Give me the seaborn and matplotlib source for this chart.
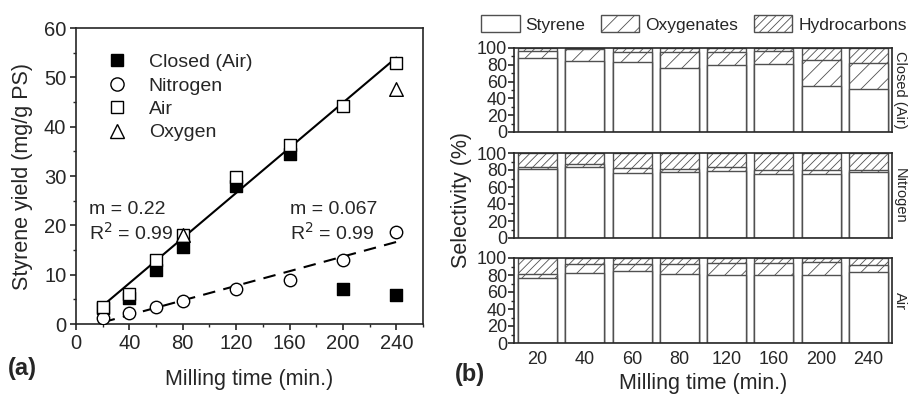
import numpy as np
import pandas as pd
import matplotlib
matplotlib.use("Agg")
import matplotlib.pyplot as plt
import seaborn as sns
from matplotlib.patches import Patch
from matplotlib.lines import Line2D
from matplotlib.ticker import MultipleLocator

# ---------------- data ----------------
time = [20, 40, 60, 80, 120, 160, 200, 240]
closed_yield = [3.3, 5.3, 11.0, 15.7, 27.9, 34.5, 7.1, 5.8]
nitrogen_yield = [1.2, 2.2, 3.4, 4.6, 7.0, 9.0, 13.0, 18.6]
air_yield = [3.4, 6.1, 13.0, 18.0, 29.7, 36.2, 44.1, 52.9]
oxygen_time = [80, 240]
oxygen_yield = [18.1, 47.6]

time_labels = ["20", "40", "60", "80", "120", "160", "200", "240"]
panel_names = ["Closed (Air)", "Nitrogen", "Air"]
styrene_sel = [
    [88, 85, 83, 76.5, 79.5, 81, 54.5, 51.5],
    [81, 84, 77, 77.5, 79, 75, 75.5, 77.5],
    [76.5, 82.5, 84.5, 81, 80, 80, 79.5, 83],
]
oxygenates_sel = [
    [9, 14, 12.5, 18.5, 15.5, 15, 31, 30.5],
    [3, 3.5, 5.5, 3.5, 4, 4.5, 4.5, 3],
    [5, 10, 8.5, 12.5, 14, 14, 16, 9],
]
hydrocarbons_sel = [
    [3, 1, 4.5, 5, 5, 4, 14.5, 18],
    [16, 12.5, 17.5, 19, 17, 20.5, 20, 19.5],
    [18.5, 7.5, 7, 6.5, 6, 6, 4.5, 8],
]

# ---------------- style ----------------
sns.set_style("ticks")
plt.rcParams["font.family"] = ["Liberation Sans", "DejaVu Sans"]
plt.rcParams["hatch.linewidth"] = 0.6
EDGE = "#505050"
plt.rcParams["hatch.color"] = EDGE
plt.rcParams["axes.linewidth"] = 1.2

W, H = 908, 394
fig = plt.figure(figsize=(W / 100, H / 100), dpi=100)


def px_axes(x0, y0, x1, y1):
    return fig.add_axes([x0 / W, 1 - y1 / H, (x1 - x0) / W, (y1 - y0) / H])


# ---------------- panel (a) ----------------
axa = px_axes(76, 28, 423, 324)
sns.regplot(x=time, y=air_yield, ci=None, scatter=False, truncate=True,
            color="black", line_kws={"lw": 1.5}, ax=axa)
sns.regplot(x=time, y=nitrogen_yield, ci=None, scatter=False, truncate=True,
            color="black", line_kws={"lw": 1.5, "ls": (0, (6, 4))}, ax=axa)
ms = 80
sns.scatterplot(x=time, y=closed_yield, marker="s", s=ms, color="black",
                edgecolor="black", linewidth=1, ax=axa, zorder=3)
sns.scatterplot(x=time, y=nitrogen_yield, marker="o", s=ms, facecolor="white",
                edgecolor="black", linewidth=1, ax=axa, zorder=3)
sns.scatterplot(x=time, y=air_yield, marker="s", s=ms, facecolor="white",
                edgecolor="black", linewidth=1, ax=axa, zorder=4)
sns.scatterplot(x=oxygen_time, y=oxygen_yield, marker="^", s=ms * 1.2,
                facecolor="white", edgecolor="black", linewidth=1, ax=axa, zorder=5)

axa.set_xlim(0, 260)
axa.set_ylim(0, 60)
axa.xaxis.set_major_locator(MultipleLocator(40))
axa.xaxis.set_minor_locator(MultipleLocator(20))
axa.yaxis.set_major_locator(MultipleLocator(10))
axa.yaxis.set_minor_locator(MultipleLocator(5))
axa.tick_params(which="major", direction="out", length=4, width=1.2,
                labelsize=14.5, pad=3)
axa.tick_params(which="minor", direction="out", length=2.5, width=1)
for s in axa.spines.values():
    s.set_visible(True)
    s.set_linewidth(1.2)
axa.set_xlabel("Milling time (min.)", fontsize=15.5, labelpad=12)
axa.set_ylabel("Styrene yield (mg/g PS)", fontsize=15.5, labelpad=8)

leg_handles = [
    Line2D([], [], ls="", marker="s", ms=9, mfc="black", mec="black"),
    Line2D([], [], ls="", marker="o", ms=9.5, mfc="white", mec="black"),
    Line2D([], [], ls="", marker="s", ms=9, mfc="white", mec="black"),
    Line2D([], [], ls="", marker="^", ms=10, mfc="white", mec="black"),
]
axa.legend(leg_handles, ["Closed (Air)", "Nitrogen", "Air", "Oxygen"],
           loc="upper left", bbox_to_anchor=(0.05, 0.96), frameon=False,
           fontsize=14, handlelength=1.0, handletextpad=1.15, labelspacing=0.3,
           borderpad=0.2)

axa.text(10, 22.2, "m = 0.22", fontsize=14, va="baseline")
axa.text(10, 17.0, "R$^2$ = 0.99", fontsize=14, va="baseline")
axa.text(160.5, 22.2, "m = 0.067", fontsize=14, va="baseline")
axa.text(160.5, 17.0, "R$^2$ = 0.99", fontsize=14, va="baseline")

fig.text(8 / W, 1 - 368 / H, "(a)", fontsize=17, fontweight="bold", va="center")

# ---------------- panel (b) ----------------
rows = [(48, 132), (153, 238), (258, 343)]
axes_b = []
for i, (y0, y1) in enumerate(rows):
    ax = px_axes(514, y0, 892, y1)
    sty = np.array(styrene_sel[i])
    oxy = np.array(oxygenates_sel[i])
    hyd = np.array(hydrocarbons_sel[i])
    common = dict(x=time_labels, color="white", saturation=1, edgecolor=EDGE,
                  linewidth=1.0, width=0.83, errorbar=None, ax=ax)
    sns.barplot(y=sty + oxy + hyd, hatch="////", **common)
    sns.barplot(y=sty + oxy, hatch="//", **common)
    sns.barplot(y=sty, **common)
    ax.set_xlim(-0.5, 7.5)
    ax.set_ylim(0, 100)
    ax.yaxis.set_major_locator(MultipleLocator(20))
    ax.yaxis.set_minor_locator(MultipleLocator(10))
    ax.tick_params(axis="y", which="major", direction="out", length=4, width=1.2,
                   labelsize=13, pad=1)
    ax.tick_params(axis="y", which="minor", direction="out", length=2.5, width=1)
    ax.tick_params(axis="x", length=0, labelsize=13, pad=6)
    for s in ax.spines.values():
        s.set_visible(True)
        s.set_linewidth(1.2)
        s.set_zorder(5)
    ax.set_xlabel("")
    ax.set_ylabel("")
    if i < 2:
        ax.set_xticklabels([])
    fig.text(893 / W, 1 - (y0 + y1) / 2 / H, panel_names[i], rotation=-90,
             fontsize=10.5, va="center", ha="left")
    axes_b.append(ax)

axes_b[-1].set_xlabel("Milling time (min.)", fontsize=15.5, labelpad=3)
fig.text(461 / W, 1 - 200 / H, "Selectivity (%)", rotation=90, fontsize=15.5,
         ha="center", va="center")
fig.text(455 / W, 1 - 375 / H, "(b)", fontsize=17, fontweight="bold", va="center")

leg_patches = [
    Patch(facecolor="white", edgecolor=EDGE, linewidth=1.0),
    Patch(facecolor="white", edgecolor=EDGE, linewidth=1.0, hatch="//"),
    Patch(facecolor="white", edgecolor=EDGE, linewidth=1.0, hatch="////"),
]
fig.legend(leg_patches, ["Styrene", "Oxygenates", "Hydrocarbons"],
           loc="center", bbox_to_anchor=(694 / W, 1 - 24 / H), ncol=3,
           frameon=False, fontsize=12.5, handlelength=2.2, handleheight=1.1,
           handletextpad=0.35, columnspacing=0.9, borderpad=0.1)

fig.savefig("out.png", dpi=100)
